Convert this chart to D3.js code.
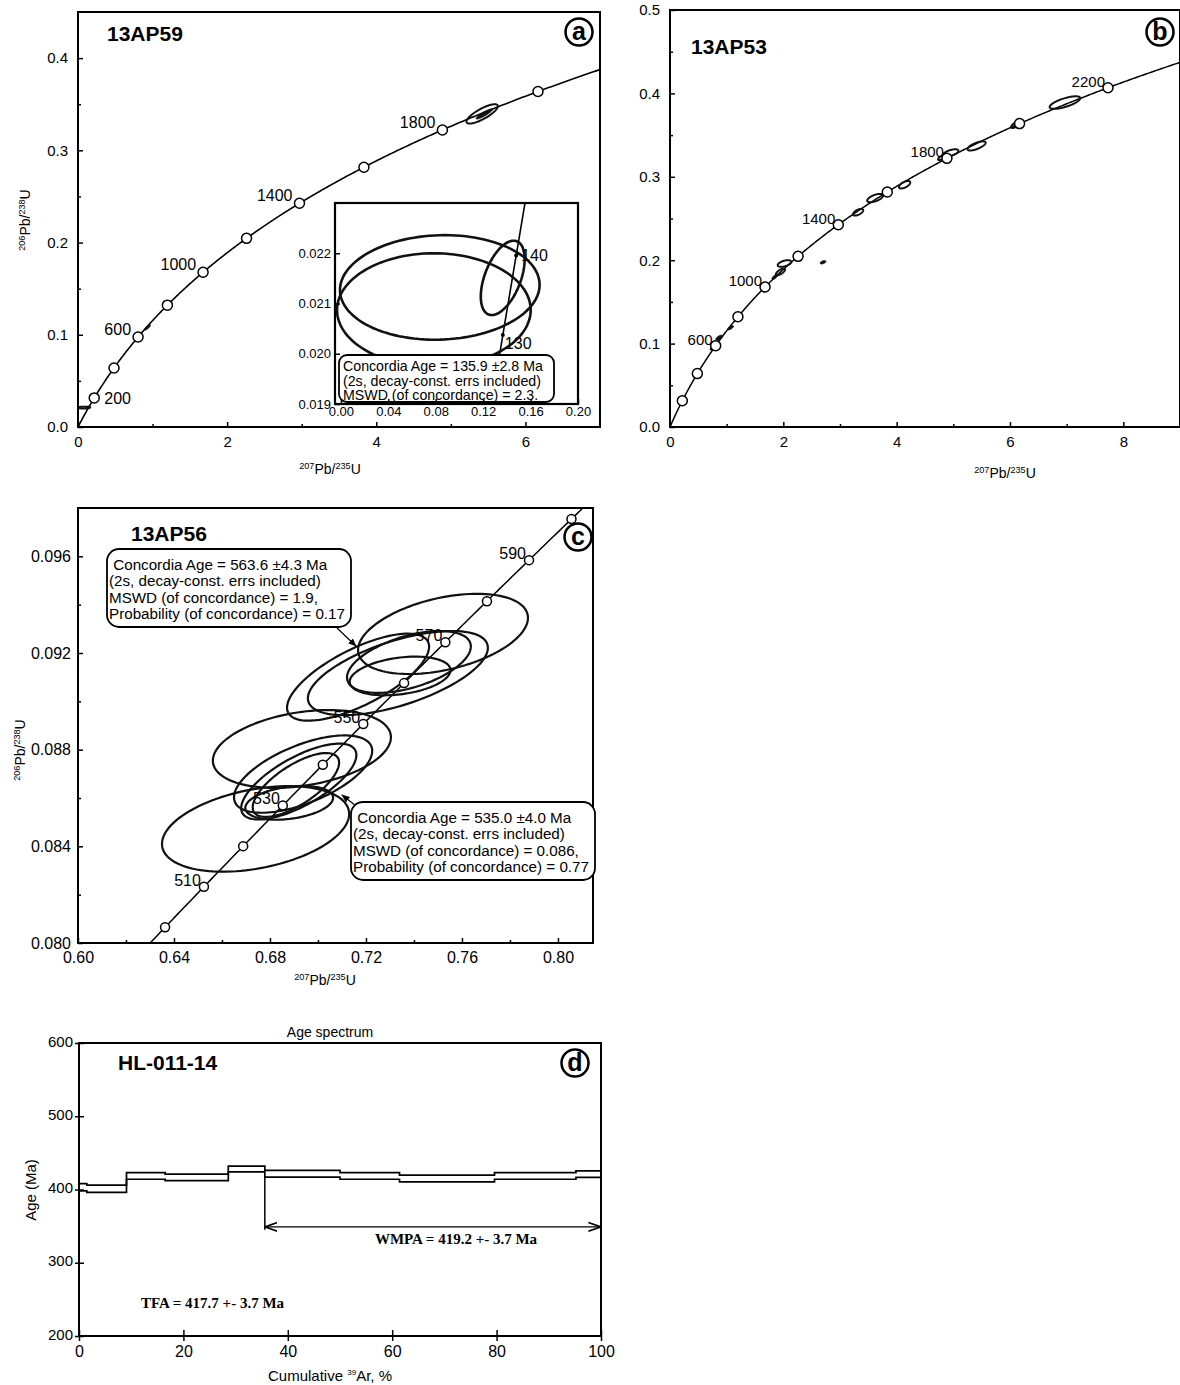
<!DOCTYPE html>
<html lang="en">
<head>
<meta charset="utf-8"/>
<title>Concordia diagrams and Ar-Ar age spectrum</title>
<script src="https://d3js.org/d3.v7.min.js"></script>
<style>
  body { margin: 0; background: #fff; }
  svg { display: block; font-family: "Liberation Sans", Arial, sans-serif; }
</style>
</head>
<body>
<svg id="fig" width="1180" height="1385"></svg>
<script>
// decay constants (1/yr), the concordia is the curve of these two clocks
const lambda238 = 1.55125e-10;
const lambda235 = 9.8485e-10;

// ---- panel a : 13AP59 ----
const markerAgesA = [200, 400, 600, 800, 1000, 1200, 1400, 1600, 1800, 2000];
const labelAgesA = [200, 600, 1000, 1400, 1800];
// [207Pb/235U, 206Pb/238U, half-width x, half-width y, correlation]
const ellipsesA = [[5.42, 0.3395, 0.21, 0.0105, 0.8]];
const solidEllipsesA = [[5.45, 0.3395, 0.11, 0.0055, 0.9], [0.93, 0.108, 0.04, 0.003, 0.8]];
// inset of panel a (young grains)
const markerAgesInset = [130, 140];
const ellipsesInset = [
  [0.0834, 0.02132, 0.0842, 0.00104, 0.05],
  [0.0784, 0.02087, 0.0817, 0.00113, 0.0],
  [0.1365, 0.02151, 0.0185, 0.00074, 0.5]
];
const insetText = ["Concordia Age = 135.9 \u00b12.8 Ma", "(2s, decay-const. errs included)", "MSWD (of concordance) = 2.3."];

// ---- panel b : 13AP53 ----
const markerAgesB = [200, 400, 600, 800, 1000, 1200, 1400, 1600, 1800, 2000, 2200];
const labelAgesB = [600, 1000, 1400, 1800, 2200];
const ellipsesB = [
  [6.97, 0.389, 0.27, 0.0075, 0.7],
  [6.10, 0.3625, 0.08, 0.004, 0.7],
  [5.41, 0.337, 0.16, 0.0055, 0.7],
  [4.95, 0.3285, 0.14, 0.0045, 0.6],
  [4.80, 0.323, 0.07, 0.003, 0.7],
  [4.14, 0.2905, 0.10, 0.0045, 0.6],
  [3.62, 0.2745, 0.14, 0.005, 0.6],
  [3.32, 0.2575, 0.09, 0.004, 0.6],
  [2.02, 0.196, 0.12, 0.004, 0.5],
  [1.95, 0.186, 0.08, 0.004, 0.7]
];
const solidEllipsesB = [
  [1.85, 0.180, 0.05, 0.003, 0.7],
  [2.70, 0.1975, 0.05, 0.002, 0.5],
  [1.07, 0.119, 0.05, 0.0025, 0.7],
  [0.87, 0.107, 0.06, 0.003, 0.6],
  [0.76, 0.095, 0.05, 0.003, 0.6]
];

// ---- panel c : 13AP56 ----
const markerAgesC = [500, 510, 520, 530, 540, 550, 560, 570, 580, 590, 600];
const labelAgesC = [510, 530, 550, 570, 590];
const ellipsesC = [
  [0.7521, 0.09279, 0.0354, 0.00166, 0.4],
  [0.7333, 0.09117, 0.0375, 0.00174, 0.6],
  [0.7167, 0.0910, 0.0296, 0.0018, 0.7],
  [0.7379, 0.09163, 0.0258, 0.00128, 0.5],
  [0.7342, 0.09105, 0.021, 0.0008, 0.3],
  [0.6933, 0.08803, 0.0371, 0.00161, 0.3],
  [0.6938, 0.08699, 0.0288, 0.0016, 0.6],
  [0.6920, 0.08668, 0.024, 0.00157, 0.7],
  [0.6908, 0.08654, 0.018, 0.00132, 0.7],
  [0.6880, 0.0858, 0.0183, 0.0007, 0.3],
  [0.6740, 0.08472, 0.039, 0.00177, 0.35]
];
const upperText = [" Concordia Age = 563.6 \u00b14.3 Ma", "(2s, decay-const. errs included)", "MSWD (of concordance) = 1.9,", "Probability (of concordance) = 0.17"];
const lowerText = [" Concordia Age = 535.0 \u00b14.0 Ma", "(2s, decay-const. errs included)", "MSWD (of concordance) = 0.086,", "Probability (of concordance) = 0.77"];

// ---- panel d : HL-011-14 age spectrum ----
const stepEdges = [0, 1.5, 9.1, 16.5, 28.6, 35.6, 50.0, 61.4, 79.6, 95.2, 100];
const stepAges = [403, 401, 418.5, 416.5, 428, 421.5, 418.5, 415, 418.5, 421];
const stepErrors = [5, 5, 4.5, 4.5, 4, 4.5, 4.5, 4.5, 4.5, 4.5];
const plateau = [35.6, 100];
const plateauAge = 349;
const ageTicks = [200, 300, 400, 500, 600];
const fractionTicks = [0, 20, 40, 60, 80, 100];

const svg = d3.select("#fig");
const font = "Liberation Sans, Arial, sans-serif";

function concordia(t) {
  return [Math.exp(lambda235 * t * 1e6) - 1, Math.exp(lambda238 * t * 1e6) - 1];
}

function ellipsePath(e, x, y) {
  const [cx, cy, sx, sy, rho] = e;
  const k = Math.sqrt(1 - rho * rho);
  const pts = d3.range(0, 121).map(i => {
    const a = i / 120 * 2 * Math.PI;
    return [x(cx + sx * Math.cos(a)), y(cy + sy * (rho * Math.cos(a) + k * Math.sin(a)))];
  });
  return d3.line()(pts) + "Z";
}

// 206Pb/238U style label
function ratioText(t, a, b, fs) {
  const up = fs * 0.38;
  t.append("tspan").attr("font-size", fs * 0.65).attr("dy", -up).text(a);
  t.append("tspan").attr("dy", up).text("Pb/");
  t.append("tspan").attr("font-size", fs * 0.65).attr("dy", -up).text(b);
  t.append("tspan").attr("dy", up).text("U");
}

function circled(g, cx, cy, letter) {
  g.append("circle").attr("cx", cx).attr("cy", cy).attr("r", 13.5)
    .attr("fill", "#fff").attr("stroke", "#000").attr("stroke-width", 2.5);
  g.append("text").attr("x", cx).attr("y", cy + 8).attr("text-anchor", "middle")
    .attr("font-size", 25).attr("font-weight", "bold").text(letter);
}

function styleAxis(sel, fs) {
  sel.attr("font-size", fs).attr("font-family", font);
  sel.select(".domain").remove();
  sel.selectAll(".tick line").attr("stroke-width", 1.5);
  sel.selectAll(".tick text").attr("fill", "#000");
}

// frame + inward ticks for a concordia panel
function frame(g, x, y, o) {
  const [x0, x1] = x.range(), [y0, y1] = y.range();
  g.append("g").attr("transform", `translate(${x0},0)`)
    .call(d3.axisLeft(y).tickValues(o.yMinor).tickSize(-3).tickFormat(""))
    .call(s => styleAxis(s, o.fs));
  g.append("g").attr("transform", `translate(${x0},0)`)
    .call(d3.axisLeft(y).tickValues(o.yTicks).tickSize(-5).tickPadding(o.padY).tickFormat(d3.format(o.yFmt)))
    .call(s => styleAxis(s, o.fs));
  g.append("g").attr("transform", `translate(0,${y0})`)
    .call(d3.axisBottom(x).tickValues(o.xMinor).tickSize(-3).tickFormat(""))
    .call(s => styleAxis(s, o.fs));
  g.append("g").attr("transform", `translate(0,${y0})`)
    .call(d3.axisBottom(x).tickValues(o.xTicks).tickSize(-5).tickPadding(o.padX).tickFormat(d3.format(o.xFmt)))
    .call(s => styleAxis(s, o.fs));
  g.append("rect").attr("x", x0).attr("y", y1).attr("width", x1 - x0).attr("height", y0 - y1)
    .attr("fill", "none").attr("stroke", "#000").attr("stroke-width", o.border || 2);
}

function concordiaPanel(g, id, x, y, tRange, stroke) {
  const [x0, x1] = x.range(), [y0, y1] = y.range();
  g.append("clipPath").attr("id", id).append("rect")
    .attr("x", x0).attr("y", y1).attr("width", x1 - x0).attr("height", y0 - y1);
  const body = g.append("g").attr("clip-path", `url(#${id})`);
  const pts = d3.range(tRange[0], tRange[1], tRange[2]).map(concordia);
  body.append("path").attr("d", d3.line().x(d => x(d[0])).y(d => y(d[1]))(pts))
    .attr("fill", "none").attr("stroke", "#000").attr("stroke-width", stroke);
  return body;
}

function drawEllipses(body, list, x, y, w, solid) {
  body.selectAll(null).data(list).join("path")
    .attr("d", e => ellipsePath(e, x, y))
    .attr("fill", solid ? "#111" : "none")
    .attr("stroke", "#111").attr("stroke-width", w);
}

function drawMarkers(body, ages, x, y, r) {
  body.selectAll(null).data(ages.map(concordia)).join("circle")
    .attr("cx", d => x(d[0])).attr("cy", d => y(d[1])).attr("r", r)
    .attr("fill", "#fff").attr("stroke", "#000").attr("stroke-width", 1.5);
}

/* ================= panel a ================= */
{
  const g = svg.append("g");
  const x = d3.scaleLinear().domain([0, 7]).range([78, 600]);
  const y = d3.scaleLinear().domain([0, 0.45]).range([427, 12]);
  const body = concordiaPanel(g, "clipA", x, y, [0, 2300, 5], 1.6);
  drawEllipses(body, ellipsesInset, x, y, 1.5, false);
  drawEllipses(body, ellipsesA, x, y, 2, false);
  drawEllipses(body, solidEllipsesA, x, y, 1, true);
  drawMarkers(body, markerAgesA, x, y, 5);
  labelAgesA.forEach(t => {
    const [a, b] = concordia(t);
    const txt = g.append("text").attr("font-size", 16).text(t);
    if (t === 200) txt.attr("x", x(a) + 10).attr("y", y(b) + 6);
    else txt.attr("x", x(a) - 7).attr("y", y(b) - 2).attr("text-anchor", "end");
  });
  frame(g, x, y, {yTicks: [0, 0.1, 0.2, 0.3, 0.4], yMinor: [0.05, 0.15, 0.25, 0.35],
    xTicks: [0, 2, 4, 6], xMinor: [1, 3, 5], yFmt: ".1f", xFmt: "d", fs: 15, padX: 9, padY: 10});
  g.append("text").attr("x", 107).attr("y", 41).attr("font-size", 21).attr("font-weight", "bold").text("13AP59");
  circled(g, 579, 32, "a");
  ratioText(g.append("text").attr("transform", "translate(30,220) rotate(-90)")
    .attr("text-anchor", "middle").attr("font-size", 14), "206", "238", 14);
  ratioText(g.append("text").attr("x", 330).attr("y", 474).attr("text-anchor", "middle").attr("font-size", 14), "207", "235", 14);

  // inset
  const xi = d3.scaleLinear().domain([-0.005, 0.2]).range([335, 578]);
  const yi = d3.scaleLinear().domain([0.019, 0.023]).range([404, 203]);
  g.append("rect").attr("x", 335).attr("y", 203).attr("width", 243).attr("height", 201).attr("fill", "#fff");
  const ib = concordiaPanel(g, "clipInset", xi, yi, [100, 170, 0.5], 1.6);
  drawEllipses(ib, ellipsesInset, xi, yi, 2.6, false);
  ib.selectAll(null).data(markerAgesInset.map(concordia)).join("circle")
    .attr("cx", d => xi(d[0])).attr("cy", d => yi(d[1])).attr("r", 2)
    .attr("fill", "#000");
  markerAgesInset.forEach(t => {
    const [a, b] = concordia(t);
    g.append("text").attr("x", xi(a) + (t === 140 ? 5 : 2)).attr("y", yi(b) + (t === 140 ? 5 : 14))
      .attr("font-size", 16).text(t);
  });
  g.append("rect").attr("x", 339).attr("y", 355).attr("width", 215).attr("height", 47).attr("rx", 8)
    .attr("fill", "#fff").attr("stroke", "#000").attr("stroke-width", 1.8);
  insetText.forEach((s, i) => g.append("text").attr("x", 343).attr("y", 371 + i * 14.5)
    .attr("font-size", 14.2).text(s));
  frame(g, xi, yi, {yTicks: [0.019, 0.020, 0.021, 0.022], yMinor: [],
    xTicks: [0, 0.04, 0.08, 0.12, 0.16, 0.2], xMinor: [], yFmt: ".3f", xFmt: ".2f", fs: 13, padX: 3, padY: 4, border: 2.2});
}

/* ================= panel b ================= */
{
  const g = svg.append("g");
  const x = d3.scaleLinear().domain([0, 9]).range([670, 1180]);
  const y = d3.scaleLinear().domain([0, 0.5]).range([427, 10]);
  const body = concordiaPanel(g, "clipB", x, y, [0, 2500, 5], 1.5);
  drawEllipses(body, ellipsesB, x, y, 2, false);
  drawEllipses(body, solidEllipsesB, x, y, 1, true);
  drawMarkers(body, markerAgesB, x, y, 5);
  labelAgesB.forEach(t => {
    const [a, b] = concordia(t);
    g.append("text").attr("x", x(a) - 3).attr("y", y(b) - 1).attr("text-anchor", "end")
      .attr("font-size", 15).text(t);
  });
  frame(g, x, y, {yTicks: [0, 0.1, 0.2, 0.3, 0.4, 0.5], yMinor: [0.05, 0.15, 0.25, 0.35, 0.45],
    xTicks: [0, 2, 4, 6, 8], xMinor: [1, 3, 5, 7], yFmt: ".1f", xFmt: "d", fs: 15, padX: 9, padY: 10});
  g.append("text").attr("x", 691).attr("y", 54).attr("font-size", 21).attr("font-weight", "bold").text("13AP53");
  circled(g, 1160, 32, "b");
  ratioText(g.append("text").attr("x", 1005).attr("y", 478).attr("text-anchor", "middle").attr("font-size", 14), "207", "235", 14);
}

/* ================= panel c ================= */
{
  const g = svg.append("g");
  const x = d3.scaleLinear().domain([0.60, 0.8146]).range([78, 593]);
  const y = d3.scaleLinear().domain([0.080, 0.098]).range([943, 508]);
  const body = concordiaPanel(g, "clipC", x, y, [480, 625, 1], 1.5);
  drawEllipses(body, ellipsesC, x, y, 2.2, false);
  drawMarkers(body, markerAgesC, x, y, 4.5);
  labelAgesC.forEach(t => {
    const [a, b] = concordia(t);
    g.append("text").attr("x", x(a) - 3).attr("y", y(b) - 1).attr("text-anchor", "end")
      .attr("font-size", 16).text(t);
  });
  frame(g, x, y, {yTicks: d3.range(0.080, 0.0965, 0.004), yMinor: d3.range(0.082, 0.098, 0.004),
    xTicks: d3.range(0.60, 0.801, 0.04), xMinor: d3.range(0.62, 0.81, 0.04), yFmt: ".3f", xFmt: ".2f", fs: 16, padX: 9, padY: 7});
  g.append("text").attr("x", 131).attr("y", 541).attr("font-size", 21).attr("font-weight", "bold").text("13AP56");
  circled(g, 578, 537, "c");
  ratioText(g.append("text").attr("transform", "translate(25,750) rotate(-90)")
    .attr("text-anchor", "middle").attr("font-size", 14), "206", "238", 14);
  ratioText(g.append("text").attr("x", 325).attr("y", 985).attr("text-anchor", "middle").attr("font-size", 14), "207", "235", 14);

  // result boxes with arrows
  const defs = svg.append("defs");
  defs.append("marker").attr("id", "head").attr("viewBox", "0 0 10 10").attr("refX", 9).attr("refY", 5)
    .attr("markerWidth", 7).attr("markerHeight", 7).attr("orient", "auto")
    .append("path").attr("d", "M0,1 L10,5 L0,9 Z").attr("fill", "#000");
  const boxes = [
    {lines: upperText, bx: 107, by: 549, from: [337, 628], tip: [0.7158, 0.09229]},
    {lines: lowerText, bx: 351, by: 802, from: [360, 809], tip: [0.7100, 0.08612]}
  ];
  boxes.forEach(b => {
    g.append("line").attr("x1", b.from[0]).attr("y1", b.from[1])
      .attr("x2", x(b.tip[0])).attr("y2", y(b.tip[1]))
      .attr("stroke", "#000").attr("stroke-width", 1.2).attr("marker-end", "url(#head)");
    g.append("rect").attr("x", b.bx).attr("y", b.by).attr("width", 244).attr("height", 78).attr("rx", 12)
      .attr("fill", "#fff").attr("stroke", "#000").attr("stroke-width", 1.8);
    b.lines.forEach((s, i) => g.append("text").attr("x", b.bx + 2).attr("y", b.by + 21 + i * 16.3)
      .attr("font-size", 15.2).style("white-space", "pre").text(s));
  });
}

/* ================= panel d ================= */
{
  const g = svg.append("g");
  const x = d3.scaleLinear().domain([0, 100]).range([79, 601]);
  const y = d3.scaleLinear().domain([200, 600]).range([1336, 1043]);

  const upper = stepAges.map((a, i) => [stepEdges[i], a + stepErrors[i]]);
  const lower = stepAges.map((a, i) => [stepEdges[i], a - stepErrors[i]]);
  upper.push([100, upper[upper.length - 1][1]]);
  lower.push([100, lower[lower.length - 1][1]]);
  const step = d3.line().x(d => x(d[0])).y(d => y(d[1])).curve(d3.curveStepAfter);
  [upper, lower].forEach(p => g.append("path").attr("d", step(p))
    .attr("fill", "none").attr("stroke", "#000").attr("stroke-width", 1.7));
  g.append("path")
    .attr("d", `M${x(0)},${y(upper[0][1])}V${y(lower[0][1])}`)
    .attr("stroke", "#000").attr("stroke-width", 1.6);

  // plateau bracket
  const i0 = stepEdges.indexOf(plateau[0]);
  g.append("line").attr("x1", x(plateau[0])).attr("x2", x(plateau[0]))
    .attr("y1", y(stepAges[i0] - stepErrors[i0])).attr("y2", y(plateauAge - 4))
    .attr("stroke", "#000").attr("stroke-width", 1.5);
  const arrow = svg.select("defs").append("marker").attr("id", "vee").attr("viewBox", "0 0 10 10")
    .attr("refX", 10).attr("refY", 5).attr("markerWidth", 9).attr("markerHeight", 9)
    .attr("orient", "auto-start-reverse");
  arrow.append("path").attr("d", "M0,1.5 L10,5 L0,8.5").attr("fill", "none").attr("stroke", "#000").attr("stroke-width", 1.3);
  g.append("line").attr("x1", x(plateau[0])).attr("x2", x(plateau[1]))
    .attr("y1", y(plateauAge)).attr("y2", y(plateauAge))
    .attr("stroke", "#000").attr("stroke-width", 1.4)
    .attr("marker-start", "url(#vee)").attr("marker-end", "url(#vee)");

  g.append("g").attr("transform", `translate(${x(0)},0)`)
    .call(d3.axisLeft(y).tickValues(ageTicks).tickSize(4).tickPadding(2).tickFormat(d3.format("d")))
    .call(s => { styleAxis(s, 15); s.selectAll(".tick line").attr("x1", 5).attr("x2", -4); s.selectAll(".tick text").attr("dy", "0.2em"); });
  g.append("g").attr("transform", `translate(0,${y(200)})`)
    .call(d3.axisBottom(x).tickValues(fractionTicks).tickSize(5).tickPadding(5).tickFormat(d3.format("d")))
    .call(s => { styleAxis(s, 16); s.selectAll(".tick line").attr("y1", -6).attr("y2", 5); });
  g.append("rect").attr("x", x(0)).attr("y", y(600)).attr("width", x(100) - x(0)).attr("height", y(200) - y(600))
    .attr("fill", "none").attr("stroke", "#000").attr("stroke-width", 2);

  g.append("text").attr("x", 330).attr("y", 1037).attr("text-anchor", "middle").attr("font-size", 14).text("Age spectrum");
  g.append("text").attr("transform", "translate(36,1190) rotate(-90)").attr("text-anchor", "middle")
    .attr("font-size", 15).text("Age (Ma)");
  const xl = g.append("text").attr("x", 330).attr("y", 1381).attr("text-anchor", "middle").attr("font-size", 15);
  xl.append("tspan").text("Cumulative ");
  xl.append("tspan").attr("font-size", 8).attr("dy", -6).text("39");
  xl.append("tspan").attr("dy", 6).text("Ar, %");
  g.append("text").attr("x", 118).attr("y", 1070).attr("font-size", 21).attr("font-weight", "bold").text("HL-011-14");
  circled(g, 575, 1063, "d");
  g.append("text").attr("x", 456).attr("y", 1244).attr("text-anchor", "middle")
    .attr("font-family", "Liberation Serif, Times New Roman, serif").attr("font-weight", "bold").attr("font-size", 15)
    .text("WMPA = 419.2 +- 3.7 Ma");
  g.append("text").attr("x", 141).attr("y", 1308)
    .attr("font-family", "Liberation Serif, Times New Roman, serif").attr("font-weight", "bold").attr("font-size", 15)
    .text("TFA = 417.7 +- 3.7 Ma");
}
</script>
</body>
</html>
